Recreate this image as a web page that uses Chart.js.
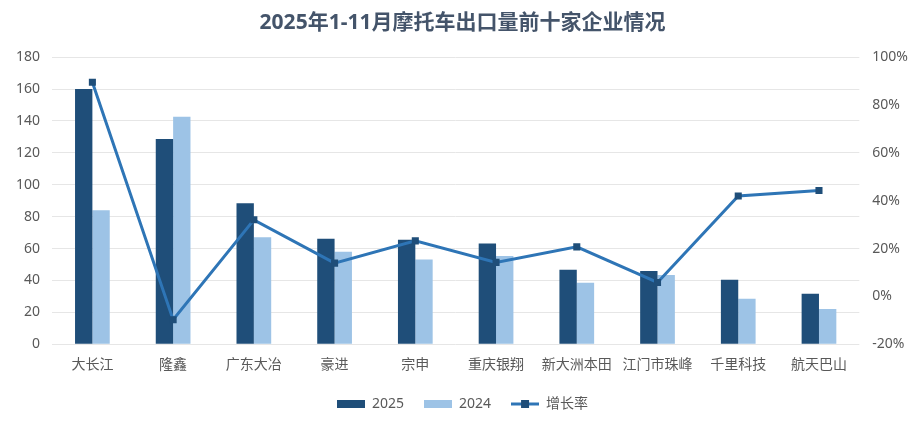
<!DOCTYPE html>
<html>
<head>
<meta charset="utf-8">
<script src="https://cdn.jsdelivr.net/npm/chart.js@4.4.0/dist/chart.umd.min.js"></script>
<style>
  html, body { margin: 0; padding: 0; background: #fff; }
  #wrap { width: 921px; height: 435px; }
</style>
</head>
<body>
<div id="wrap"><canvas id="chart"></canvas></div>
<script>
// 企业名称
const companies = ['大长江', '隆鑫', '广东大冶', '豪进', '宗申', '重庆银翔', '新大洲本田', '江门市珠峰', '千里科技', '航天巴山'];
// 出口量（万辆）
const exports2025 = [160, 128.7, 88.4, 66.1, 65.5, 63.2, 46.7, 45.9, 40.4, 31.7];
const exports2024 = [84, 142.7, 67, 58, 53.2, 55.3, 38.5, 43.4, 28.5, 22.1];
// 增长率（%）
const growthRate = [89.5, -9.8, 32, 13.9, 23.2, 14.2, 20.7, 5.8, 42, 44.3];

const DARK = '#1F4E79';
const LIGHT = '#9DC3E6';
const LINE = '#2E75B6';
const TEXT = '#595959';
const FONT = '"Noto Sans", "Noto Sans CJK SC", sans-serif';

// 图例图标
function rectIcon(color) {
    const c = document.createElement('canvas');
    c.width = 28; c.height = 8;
    const g = c.getContext('2d');
    g.fillStyle = color;
    g.fillRect(0, 0, 28, 8);
    return c;
}
function lineIcon() {
    const c = document.createElement('canvas');
    c.width = 28; c.height = 10;
    const g = c.getContext('2d');
    g.strokeStyle = LINE;
    g.lineWidth = 3;
    g.beginPath(); g.moveTo(0, 5); g.lineTo(28, 5); g.stroke();
    g.fillStyle = DARK;
    g.fillRect(10, 1, 8, 8);
    return c;
}
const icons = [rectIcon(DARK), rectIcon(LIGHT), lineIcon()];

new Chart(document.getElementById('chart').getContext('2d'), {
    type: 'bar',
    data: {
        labels: companies,
        datasets: [
            {
                label: '2025',
                data: exports2025,
                backgroundColor: DARK,
                yAxisID: 'y',
                order: 2,
                categoryPercentage: 0.43,
                barPercentage: 1
            },
            {
                label: '2024',
                data: exports2024,
                backgroundColor: LIGHT,
                yAxisID: 'y',
                order: 2,
                categoryPercentage: 0.43,
                barPercentage: 1
            },
            {
                type: 'line',
                label: '增长率',
                data: growthRate,
                borderColor: LINE,
                borderWidth: 3,
                pointStyle: 'rect',
                pointRadius: 5,
                pointBackgroundColor: DARK,
                pointBorderColor: DARK,
                pointBorderWidth: 0,
                tension: 0,
                yAxisID: 'y1',
                order: 1
            }
        ]
    },
    options: {
        responsive: true,
        maintainAspectRatio: false,
        animation: false,
        layout: { padding: { left: 4, right: 0, top: 4, bottom: 14 } },
        plugins: {
            title: {
                display: true,
                text: '2025年1-11月摩托车出口量前十家企业情况',
                color: '#44546A',
                font: { family: FONT, size: 21, weight: 'bold' },
                padding: { top: 6, bottom: 22 }
            },
            legend: {
                position: 'bottom',
                labels: {
                    color: TEXT,
                    font: { family: FONT, size: 14 },
                    usePointStyle: true,
                    pointStyleWidth: 28,
                    padding: 20,
                    sort: (a, b) => a.datasetIndex - b.datasetIndex,
                    generateLabels: chart => chart.data.datasets.map((ds, i) => ({
                        text: ds.label,
                        datasetIndex: i,
                        pointStyle: icons[i],
                        fontColor: TEXT,
                        hidden: false,
                        lineWidth: 0,
                        strokeStyle: 'transparent',
                        fillStyle: 'transparent'
                    }))
                }
            },
            tooltip: { enabled: false }
        },
        scales: {
            x: {
                grid: { display: false },
                border: { display: false },
                ticks: { color: TEXT, font: { family: FONT, size: 14 }, maxRotation: 0, autoSkip: false, padding: 4 }
            },
            y: {
                position: 'left',
                min: 0,
                max: 180,
                ticks: { stepSize: 20, color: TEXT, font: { family: FONT, size: 14 }, padding: 12 },
                grid: { color: '#E6E6E6', lineWidth: 1, drawTicks: false },
                border: { display: false }
            },
            y1: {
                position: 'right',
                min: -20,
                max: 100,
                ticks: {
                    stepSize: 20,
                    color: TEXT,
                    font: { family: FONT, size: 14 },
                    padding: 13,
                    callback: v => v + '%'
                },
                grid: { display: false, drawTicks: false },
                border: { display: false }
            }
        }
    }
});
</script>
</body>
</html>
